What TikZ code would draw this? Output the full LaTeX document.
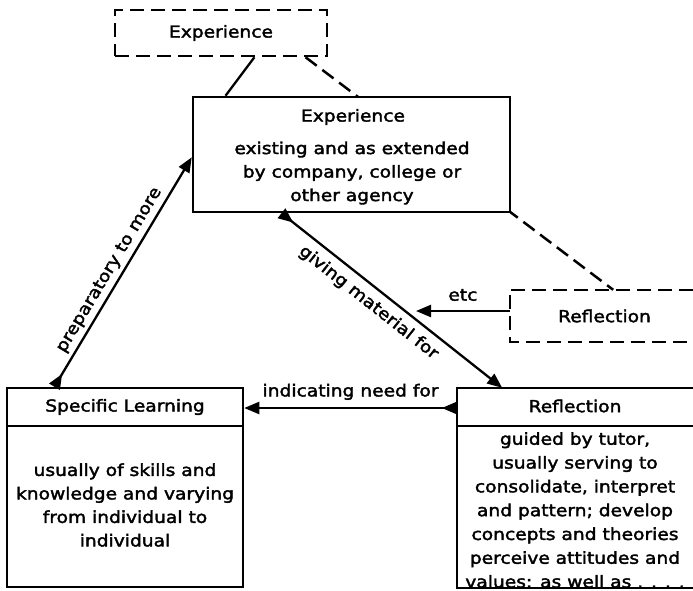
\documentclass[tikz,border=0pt]{standalone}
\usepackage{fontspec}
\setmainfont[FakeStretch=1.13,FakeBold=2.2]{DejaVu Sans}
\usetikzlibrary{arrows.meta,backgrounds,calc}
\begin{document}
\begin{tikzpicture}[x=1pt,y=-1pt,
  every node/.style={font=\fontsize{16.5}{23.5}\selectfont, inner sep=0pt},
  frame/.style={line width=2.5pt},
  dashframe/.style={line width=2.5pt, dash pattern=on 14pt off 7pt},
  conn/.style={line width=2.3pt},
  tipend/.tip={Triangle[length=15pt,width=12pt]},
  tipstart/.tip={Triangle[length=15pt,width=12pt,reversed]},
  arr/.style={conn, {tipstart}-{tipend}},
  lbl/.style={font=\fontsize{16.5}{20}\selectfont}
]
\useasboundingbox (0,0) rectangle (693,590);

% boxes
\node[draw, dashframe, minimum width=212pt, minimum height=46pt] (topexp) at (221,33) {Experience};
\node[draw, frame, fill=white, minimum width=317pt, minimum height=115pt] (exp) at (351.5,154.5) {};
\node (exptitle) at (353,117) {Experience};
\node[align=center] (expbody) at (352,173) {existing and as extended\\by company, college or\\other agency};

\node[draw, frame, minimum width=236pt, minimum height=199pt] (sl) at (125,487.5) {};
\draw[frame] ($(sl.north west)+(0,39)$) -- ($(sl.north east)+(0,39)$);
\node (sltitle) at (125,407) {Specific Learning};
\node[align=center] (slbody) at (125,505) {usually of skills and\\knowledge and varying\\from individual to\\individual};

\node[minimum width=236pt, minimum height=200pt] (refl) at (575,488) {};
\draw[frame] (refl.north east) -- (refl.north west) -- (refl.south west) -- (refl.south east);
\draw[frame] ($(refl.north west)+(0,38)$) -- ($(refl.north east)+(0,38)$);
\node (refltitle) at (575,406) {Reflection};
\node[align=center, font=\fontsize{16.5}{23.8}\selectfont] (reflbody) at (575,510) {guided by tutor,\\usually serving to\\consolidate, interpret\\and pattern; develop\\concepts and theories\\perceive attitudes and\\values: as well as . . . .};

\node[minimum width=183pt, minimum height=52pt] (refl2) at (601.5,316) {};
\draw[dashframe] (refl2.north east) -- (refl2.north west) -- (refl2.south west) -- (refl2.south east);
\node (refl2title) at (604.5,316) {Reflection};

% connectors
\begin{scope}[on background layer]
\draw[dashframe] (topexp.-16.8) -- (refl2.66);
\end{scope}
\draw[conn] (topexp.-36.6) -- (exp.155);

\draw[arr] (exp.-140) -- (refl.126.9) node[lbl, pos=0.44, sloped, below=7pt] {giving material for};
\draw[arr] (sl.125.9) -- (exp.181) node[lbl, pos=0.48, sloped, above=4pt] {preparatory to more};
\coordinate (ineed) at (350,408);
\draw[arr] (refl.west |- ineed) -- (sl.east |- ineed) node[lbl, midway, above=7pt] {indicating need for};

\coordinate (etcend) at (416,311);
\draw[conn, -{tipend}] (refl2.west |- etcend) -- (etcend) node[lbl, midway, above=9pt] {etc};
\end{tikzpicture}
\end{document}
